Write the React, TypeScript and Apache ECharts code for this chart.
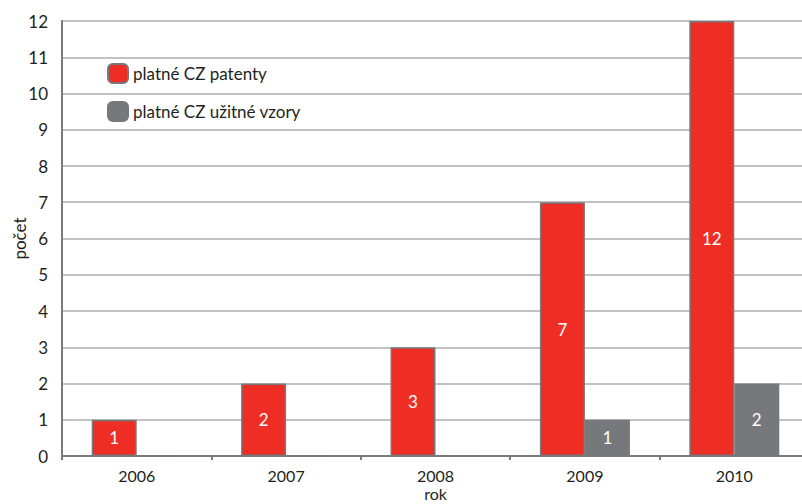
import React, { useEffect, useRef } from "react";
import * as echarts from "echarts";

const years = ["2006", "2007", "2008", "2009", "2010"];
const patents = [1, 2, 3, 7, 12];
const utilityModels = [0, 0, 0, 1, 2];
const seriesNames = ["platné CZ patenty", "platné CZ užitné vzory"];

const FONT = "Lato, 'Open Sans', sans-serif";

export default function App() {
  const ref = useRef<HTMLDivElement>(null);
  useEffect(() => {
    if (!ref.current) return;
    const chart = echarts.init(ref.current, null, { renderer: "svg" });
    const labelFmt = (p: any) => (p.value ? String(p.value) : "");
    chart.setOption({
      animation: false,
      textStyle: { fontFamily: FONT },
      grid: {
        left: 62,
        top: 21,
        width: 747,
        height: 435,
        outerBoundsMode: "none",
        containLabel: false,
        show: true,
        borderColor: "#7a7a7b",
        borderWidth: 2,
        backgroundColor: "transparent",
      },
      legend: {
        orient: "vertical",
        left: 107,
        top: 63,
        padding: 0,
        itemWidth: 20,
        itemHeight: 19,
        itemGap: 17,
        textStyle: { fontSize: 17, color: "#231f20", fontFamily: FONT },
        data: seriesNames,
      },
      xAxis: {
        type: "category",
        data: years,
        name: "rok",
        nameLocation: "middle",
        nameGap: 37,
        nameMoveOverlap: false,
        nameTextStyle: { fontSize: 16, color: "#231f20", verticalAlign: "middle" },
        axisLine: { lineStyle: { color: "#7a7a7b", width: 2 } },
        axisTick: { show: true, length: 4, lineStyle: { color: "#7a7a7b", width: 2 } },
        axisLabel: { fontSize: 16, color: "#231f20", margin: 11 },
      },
      yAxis: {
        type: "value",
        min: 0,
        max: 12,
        interval: 1,
        name: "počet",
        nameLocation: "middle",
        nameGap: 43,
        nameMoveOverlap: false,
        nameTextStyle: { fontSize: 17, color: "#231f20", verticalAlign: "middle" },
        axisLine: { show: true, lineStyle: { color: "#7a7a7b", width: 2 } },
        axisTick: { show: false },
        axisLabel: { fontSize: 17, color: "#231f20", margin: 14 },
        splitLine: { lineStyle: { color: "#c2c2c4", width: 2 } },
      },
      series: [
        {
          name: seriesNames[0],
          type: "bar",
          data: patents,
          barWidth: 45,
          barGap: "0%",
          itemStyle: { color: "#ee2e24", borderColor: "#77787b", borderWidth: 1.5 },
          label: {
            show: true,
            position: "inside",
            color: "#ffffff",
            fontSize: 17,
            formatter: labelFmt,
          },
        },
        {
          name: seriesNames[1],
          type: "bar",
          data: utilityModels,
          barWidth: 45,
          barGap: "0%",
          itemStyle: { color: "#77787b", borderColor: "#77787b", borderWidth: 1.5 },
          label: {
            show: true,
            position: "inside",
            color: "#ffffff",
            fontSize: 17,
            formatter: labelFmt,
          },
        },
      ],
    });
    return () => chart.dispose();
  }, []);
  return <div ref={ref} style={{ width: 802, height: 504, position: "absolute", left: 0, top: 0 }} />;
}
